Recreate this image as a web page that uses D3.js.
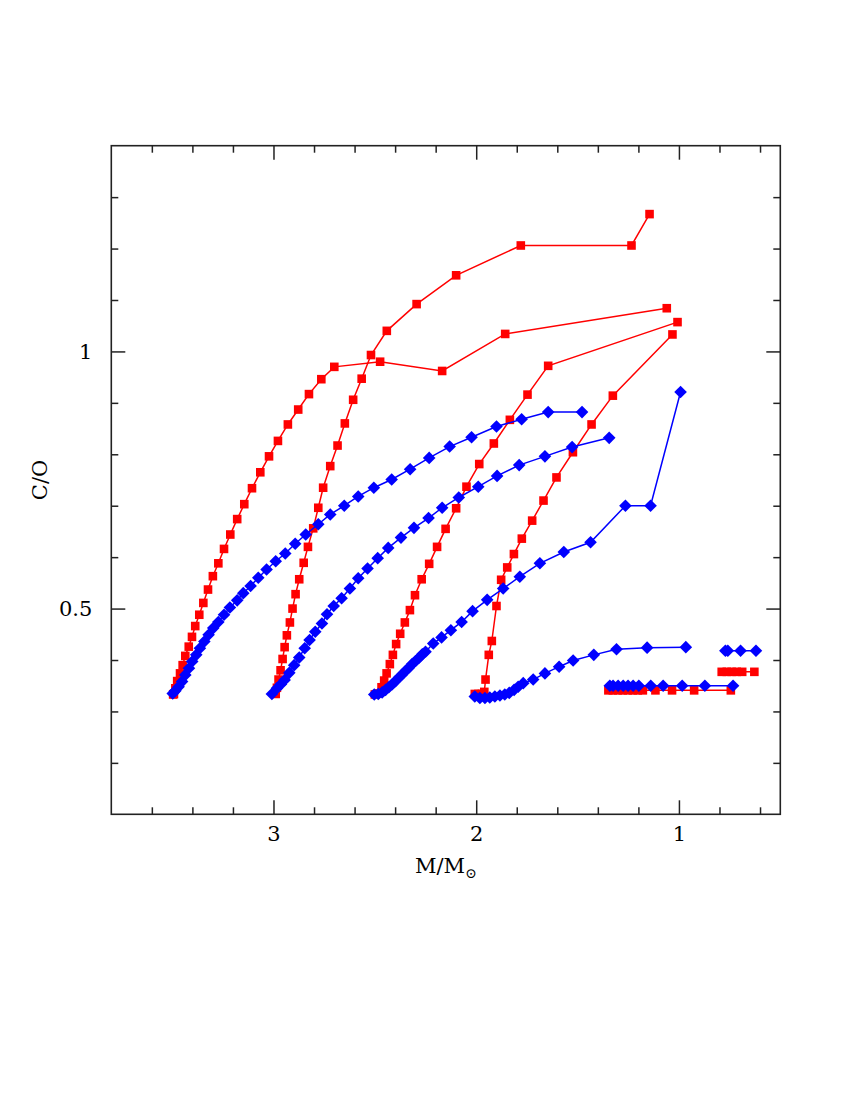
<!DOCTYPE html>
<html>
<head>
<meta charset="utf-8">
<script src="https://cdn.jsdelivr.net/npm/d3@7"></script>
<style>
body { margin: 0; background: #fff; }
svg text { font-family: 'DejaVu Serif', serif; fill: #000; }
</style>
</head>
<body>
<svg id="chart" width="850" height="1100"></svg>
<script>
// tick values
var xMajorTicks = [3, 2, 1];
var xMinorTicks = [0.6, 0.8, 1.2, 1.4, 1.6, 1.8, 2.2, 2.4, 2.6, 2.8, 3.2, 3.4, 3.6];
var yMajorTicks = [0.5, 1];
var yMinorTicks = [0.2, 0.3, 0.4, 0.6, 0.7, 0.8, 0.9, 1.1, 1.2, 1.3];

// red squares: [M/Msun, C/O]
var red35 = [[3.495,0.333],[3.491,0.334],[3.484,0.345],[3.475,0.359],[3.461,0.374],[3.448,0.390],[3.435,0.408],
  [3.418,0.426],[3.402,0.445],[3.386,0.466],[3.366,0.488],[3.346,0.511],[3.323,0.537],[3.299,0.563],
  [3.272,0.588],[3.244,0.616],[3.213,0.644],[3.179,0.674],[3.144,0.703],[3.106,0.734],[3.065,0.765],
  [3.022,0.796],[2.978,0.826],[2.929,0.858],[2.878,0.887],[2.825,0.917],[2.764,0.946],[2.700,0.970],
  [2.474,0.980],[2.168,0.962],[1.857,1.034],[1.060,1.084]];
var red30 = [[2.989,0.334],[2.983,0.346],[2.975,0.362],[2.965,0.380],[2.955,0.402],[2.945,0.425],[2.934,0.448],
  [2.919,0.473],[2.906,0.500],[2.891,0.528],[2.873,0.557],[2.851,0.589],[2.830,0.620],[2.804,0.656],
  [2.779,0.696],[2.755,0.735],[2.720,0.777],[2.684,0.817],[2.648,0.860],[2.607,0.906],[2.565,0.947],
  [2.519,0.993],[2.441,1.040],[2.294,1.092],[2.099,1.148],[1.780,1.206],[1.234,1.206],[1.145,1.267]];
var red25 = [[2.500,0.333],[2.483,0.335],[2.467,0.347],[2.454,0.360],[2.442,0.374],[2.426,0.392],[2.411,0.410],
  [2.395,0.431],[2.375,0.451],[2.352,0.473],[2.327,0.497],[2.302,0.526],[2.269,0.557],[2.232,0.587],
  [2.193,0.620],[2.151,0.655],[2.099,0.695],[2.048,0.737],[1.985,0.781],[1.913,0.821],[1.834,0.867],
  [1.747,0.916],[1.645,0.972],[1.007,1.057]];
var red20 = [[2.007,0.334],[1.989,0.334],[1.972,0.334],[1.960,0.338],[1.954,0.362],[1.938,0.410],[1.923,0.437],
  [1.900,0.505],[1.877,0.556],[1.847,0.580],[1.814,0.606],[1.775,0.636],[1.724,0.671],[1.668,0.710],
  [1.604,0.755],[1.523,0.804],[1.431,0.858],[1.326,0.914],[1.032,1.033]];
var red13 = [[1.348,0.341],[1.326,0.341],[1.301,0.341],[1.277,0.341],[1.252,0.341],[1.227,0.341],[1.203,0.341],
  [1.178,0.341],[1.116,0.341],[1.034,0.341],[0.925,0.341],[0.744,0.341]];
var red08 = [[0.789,0.377],[0.764,0.377],[0.740,0.377],[0.715,0.377],[0.688,0.377],[0.628,0.377]];

// blue diamonds: [M/Msun, C/O]
var blue35 = [[3.497,0.335],[3.484,0.340],[3.468,0.348],[3.451,0.358],[3.435,0.371],[3.417,0.384],[3.401,0.397],
  [3.381,0.410],[3.363,0.423],[3.341,0.436],[3.320,0.449],[3.297,0.462],[3.272,0.474],[3.244,0.488],
  [3.215,0.502],[3.179,0.516],[3.149,0.530],[3.113,0.544],[3.075,0.560],[3.034,0.576],[2.989,0.592],
  [2.942,0.607],[2.893,0.626],[2.841,0.644],[2.779,0.664],[2.720,0.683],[2.651,0.700],[2.582,0.718],
  [2.505,0.735],[2.417,0.751],[2.326,0.771],[2.232,0.793],[2.131,0.815],[2.023,0.833],[1.900,0.854],
  [1.776,0.868],[1.645,0.882],[1.478,0.882]];
var blue30 = [[3.008,0.334],[2.983,0.345],[2.963,0.353],[2.945,0.361],[2.922,0.375],[2.898,0.390],[2.873,0.405],
  [2.846,0.423],[2.822,0.439],[2.794,0.455],[2.761,0.471],[2.736,0.489],[2.703,0.505],[2.664,0.520],
  [2.623,0.539],[2.582,0.559],[2.536,0.578],[2.486,0.598],[2.434,0.618],[2.371,0.638],[2.307,0.657],
  [2.235,0.676],[2.168,0.696],[2.086,0.716],[1.990,0.737],[1.897,0.758],[1.788,0.779],[1.661,0.796],
  [1.527,0.814],[1.344,0.832]];
var blue25 = [[2.503,0.333],[2.483,0.334],[2.464,0.337],[2.447,0.342],[2.431,0.347],[2.414,0.353],[2.398,0.359],
  [2.381,0.366],[2.365,0.372],[2.348,0.379],[2.332,0.385],[2.316,0.392],[2.299,0.398],[2.283,0.404],
  [2.266,0.411],[2.250,0.416],[2.212,0.432],[2.171,0.444],[2.125,0.458],[2.072,0.474],[2.018,0.495],
  [1.946,0.517],[1.867,0.539],[1.785,0.562],[1.686,0.588],[1.568,0.610],[1.436,0.629],[1.264,0.700],
  [1.140,0.700],[0.992,0.921]];
var blue20 = [[2.007,0.329],[1.982,0.326],[1.957,0.326],[1.933,0.327],[1.908,0.329],[1.883,0.331],[1.859,0.333],
  [1.837,0.336],[1.813,0.342],[1.793,0.348],[1.768,0.355],[1.719,0.362],[1.661,0.374],[1.591,0.387],
  [1.522,0.399],[1.420,0.410],[1.308,0.421],[1.157,0.424],[0.966,0.425]];
var blue13 = [[1.341,0.350],[1.325,0.350],[1.300,0.350],[1.275,0.350],[1.251,0.350],[1.226,0.350],[1.198,0.350],
  [1.139,0.350],[1.078,0.350],[0.984,0.350],[0.872,0.350],[0.733,0.350]];
var blue08 = [[0.771,0.418],[0.759,0.418],[0.696,0.418],[0.620,0.418]];

var redSeries = [red35, red30, red25, red20, red13, red08];
var blueSeries = [blue35, blue30, blue25, blue20, blue13, blue08];

var svg = d3.select('#chart');
var plotL = 111.3, plotR = 780.3, plotT = 145.7, plotB = 814.3;
var fontSize = 21;

var x = d3.scaleLinear().domain([3.8, 0.5]).range([plotL, plotR]);
var y = d3.scaleLinear().domain([0.1, 1.4]).range([plotB, plotT]);

var line = d3.line()
    .x(d => x(d[0]))
    .y(d => y(d[1]));

// frame
svg.append('rect')
    .attr('x', plotL).attr('y', plotT)
    .attr('width', plotR - plotL).attr('height', plotB - plotT)
    .attr('fill', 'none').attr('stroke', '#222').attr('stroke-width', 1.6);

// ticks on all four sides, pointing inward
function addAxis(axis, tx, ty, values, size, labels) {
    var g = svg.append('g')
        .attr('transform', `translate(${tx},${ty})`)
        .style('font-size', fontSize + 'px')
        .call(axis.tickValues(values).tickSize(-size)
            .tickFormat(labels ? d3.format('') : () => ''));
    g.select('.domain').remove();
    g.selectAll('.tick line').attr('stroke', '#222').attr('stroke-width', 1.5);
    g.selectAll('text').attr('font-family', "'DejaVu Serif', serif").attr('fill', '#000');
    return g;
}

addAxis(d3.axisBottom(x).tickPadding(12), 0, plotB, xMajorTicks, 14, true);
addAxis(d3.axisBottom(x), 0, plotB, xMinorTicks, 7, false);
addAxis(d3.axisTop(x), 0, plotT, xMajorTicks, 14, false);
addAxis(d3.axisTop(x), 0, plotT, xMinorTicks, 7, false);
addAxis(d3.axisLeft(y).tickPadding(19), plotL, 0, yMajorTicks, 14, true);
addAxis(d3.axisLeft(y), plotL, 0, yMinorTicks, 7, false);
addAxis(d3.axisRight(y), plotR, 0, yMajorTicks, 14, false);
addAxis(d3.axisRight(y), plotR, 0, yMinorTicks, 7, false);

// axis titles
var xTitle = svg.append('text')
    .attr('x', (plotL + plotR) / 2)
    .attr('y', 873)
    .attr('text-anchor', 'middle')
    .style('font-size', fontSize + 'px');
xTitle.append('tspan').text('M/M');
xTitle.append('tspan').attr('dy', 5).style('font-size', '14px').text('\u2299');

svg.append('text')
    .attr('transform', `translate(47,${(plotT + plotB) / 2}) rotate(-90)`)
    .attr('text-anchor', 'middle')
    .style('font-size', fontSize + 'px')
    .text('C/O');

// red square tracks
var redG = svg.append('g').attr('class', 'red-tracks');
redSeries.forEach(s => {
    redG.append('path')
        .attr('d', line(s))
        .attr('fill', 'none')
        .attr('stroke', '#ff0000')
        .attr('stroke-width', 1.5);
    redG.selectAll(null)
        .data(s).enter()
        .append('rect')
        .attr('x', d => x(d[0]) - 4.3)
        .attr('y', d => y(d[1]) - 4.3)
        .attr('width', 8.6)
        .attr('height', 8.6)
        .attr('fill', '#ff0000');
});

// blue diamond tracks
var blueG = svg.append('g').attr('class', 'blue-tracks');
var diamond = 'M0,-6.3L6.3,0L0,6.3L-6.3,0Z';
blueSeries.forEach(s => {
    blueG.append('path')
        .attr('d', line(s))
        .attr('fill', 'none')
        .attr('stroke', '#0000ff')
        .attr('stroke-width', 1.5);
    blueG.selectAll(null)
        .data(s).enter()
        .append('path')
        .attr('d', diamond)
        .attr('transform', d => `translate(${x(d[0])},${y(d[1])})`)
        .attr('fill', '#0000ff');
});
</script>
</body>
</html>
